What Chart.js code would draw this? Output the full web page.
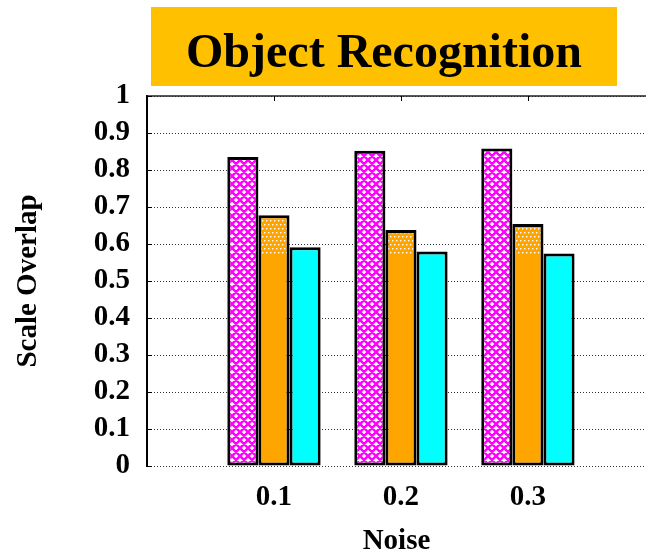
<!DOCTYPE html>
<html>
<head>
<meta charset="utf-8">
<script src="https://cdn.jsdelivr.net/npm/chart.js@4"></script>
<style>
  html, body { margin: 0; padding: 0; background: #fff; }
  #wrap { width: 646px; height: 553px; position: relative; }
</style>
</head>
<body>
<div id="wrap"><canvas id="c"></canvas></div>
<script>
// Chart text
const chartTitle = 'Object Recognition';
const xTitle = 'Noise';
const yTitle = 'Scale Overlap';

// Noise levels on the x axis and the three bar series
const noiseLevels = [0.1, 0.2, 0.3];
const seriesMagenta = [0.835, 0.852, 0.858];
const seriesOrange = [0.678, 0.638, 0.654];
const seriesCyan = [0.591, 0.580, 0.574];

// Y axis tick values
const yTickValues = [0, 0.1, 0.2, 0.3, 0.4, 0.5, 0.6, 0.7, 0.8, 0.9, 1];

const FONT = "'Liberation Serif', 'Times New Roman', serif";
const MAGENTA = '#ff00ff';
const ORANGE = '#ffa500';
const CYAN = '#00ffff';
const BANNER = '#ffc000';

// Diagonal cross-hatch (magenta lines on white)
function crossHatch() {
  const s = 8;
  const c = document.createElement('canvas');
  c.width = c.height = s;
  const g = c.getContext('2d');
  g.fillStyle = '#fff';
  g.fillRect(0, 0, s, s);
  g.strokeStyle = MAGENTA;
  g.lineWidth = 2.5;
  g.beginPath();
  for (let k = -1; k <= 1; k++) {
    g.moveTo(k * s, 0); g.lineTo(k * s + s, s);
    g.moveTo(k * s + s, 0); g.lineTo(k * s, s);
  }
  g.stroke();
  return g.createPattern(c, 'repeat');
}

// Orange fill with a band of white dots over the upper part of the bars
let orangeCache = null;
function orangeFill(ctx) {
  const chart = ctx.chart;
  if (!chart.chartArea || !chart.scales.y) return ORANGE;
  const key = chart.width + 'x' + chart.height + ':' + chart.chartArea.top + ':' + chart.chartArea.bottom;
  if (orangeCache && orangeCache.key === key) return orangeCache.pattern;
  const yCut = chart.scales.y.getPixelForValue(0.57);
  const c = document.createElement('canvas');
  c.width = chart.width; c.height = chart.height;
  const g = c.getContext('2d');
  g.fillStyle = ORANGE;
  g.fillRect(0, 0, c.width, c.height);
  g.fillStyle = '#fff';
  let row = 0;
  for (let y = chart.chartArea.top; y < yCut; y += 4, row++) {
    for (let x = (row % 2) * 2; x < c.width; x += 4) g.fillRect(x, y, 1.4, 1.4);
  }
  const pattern = chart.ctx.createPattern(c, 'no-repeat');
  orangeCache = { key, pattern };
  return pattern;
}

// Title banner drawn above the plot
const bannerPlugin = {
  id: 'banner',
  beforeDraw(chart) {
    const g = chart.ctx;
    const box = { left: 151, top: 7, width: 466, height: 79 };
    g.save();
    g.fillStyle = BANNER;
    g.fillRect(box.left, box.top, box.width, box.height);
    g.fillStyle = '#000';
    g.font = 'bold 48px ' + FONT;
    g.textAlign = 'center';
    g.textBaseline = 'alphabetic';
    g.fillText(chartTitle, box.left + box.width / 2, 67);
    g.restore();
  }
};

// Plot frame: solid top edge and short inward tick marks
const framePlugin = {
  id: 'frame',
  afterDraw(chart) {
    const g = chart.ctx;
    const a = chart.chartArea;
    const xs = chart.scales.x, ys = chart.scales.y;
    g.save();
    g.strokeStyle = '#222';
    g.lineWidth = 1.5;
    g.beginPath();
    g.moveTo(a.left, a.top); g.lineTo(a.right, a.top);
    g.stroke();
    g.strokeStyle = '#000';
    g.lineWidth = 1;
    g.beginPath();
    ys.ticks.forEach(t => {
      const y = Math.round(ys.getPixelForValue(t.value)) + 0.5;
      g.moveTo(a.left, y); g.lineTo(a.left + 5, y);
    });
    xs.ticks.forEach(t => {
      const x = Math.round(xs.getPixelForValue(t.value)) + 0.5;
      g.moveTo(x, a.top); g.lineTo(x, a.top + 5);
    });
    g.stroke();
    g.restore();
  }
};

const toPoints = vals => noiseLevels.map((n, i) => ({ x: n, y: vals[i] }));

const barStyle = {
  borderColor: '#000',
  borderWidth: 3,
  borderSkipped: false,
  categoryPercentage: 0.735,
  barPercentage: 1
};

const axisFont = { family: FONT, size: 29, weight: 'bold', lineHeight: 1 };

new Chart(document.getElementById('c'), {
  type: 'bar',
  data: {
    datasets: [
      Object.assign({ label: 'A', data: toPoints(seriesMagenta), backgroundColor: crossHatch() }, barStyle),
      Object.assign({ label: 'B', data: toPoints(seriesOrange), backgroundColor: orangeFill }, barStyle),
      Object.assign({ label: 'C', data: toPoints(seriesCyan), backgroundColor: CYAN }, barStyle)
    ]
  },
  options: {
    responsive: true,
    maintainAspectRatio: false,
    animation: false,
    devicePixelRatio: 1,
    layout: { padding: { top: 96, right: 0, bottom: 0, left: 0 } },
    plugins: {
      legend: { display: false },
      title: { display: false },
      tooltip: { enabled: false }
    },
    scales: {
      x: {
        type: 'linear',
        min: 0,
        max: 0.393,
        offset: false,
        afterBuildTicks: s => { s.ticks = noiseLevels.map(v => ({ value: v })); },
        afterFit: s => { s.height = 87; },
        grid: { display: false, drawTicks: false },
        border: { display: false },
        ticks: {
          padding: 17,
          maxRotation: 0,
          color: '#000',
          font: axisFont,
          callback: v => Number(v).toFixed(1)
        },
        title: {
          display: true,
          text: xTitle,
          color: '#000',
          font: axisFont,
          padding: { top: 14, bottom: -3 }
        }
      },
      y: {
        min: 0,
        max: 1,
        afterBuildTicks: s => { s.ticks = yTickValues.map(v => ({ value: v })); },
        afterFit: s => { s.width = 147; },
        grid: { color: '#333', lineWidth: 1, drawTicks: false },
        border: { display: true, color: '#000', width: 2, dash: [1, 2] },
        ticks: {
          padding: 17,
          color: '#000',
          font: axisFont,
          callback: v => {
            const r = Math.round(v * 10) / 10;
            return (r === 0 || r === 1) ? String(r) : r.toFixed(1);
          }
        },
        title: {
          display: true,
          text: yTitle,
          color: '#000',
          font: axisFont,
          padding: { top: 14, bottom: 50 }
        }
      }
    }
  },
  plugins: [bannerPlugin, framePlugin]
});
</script>
</body>
</html>
